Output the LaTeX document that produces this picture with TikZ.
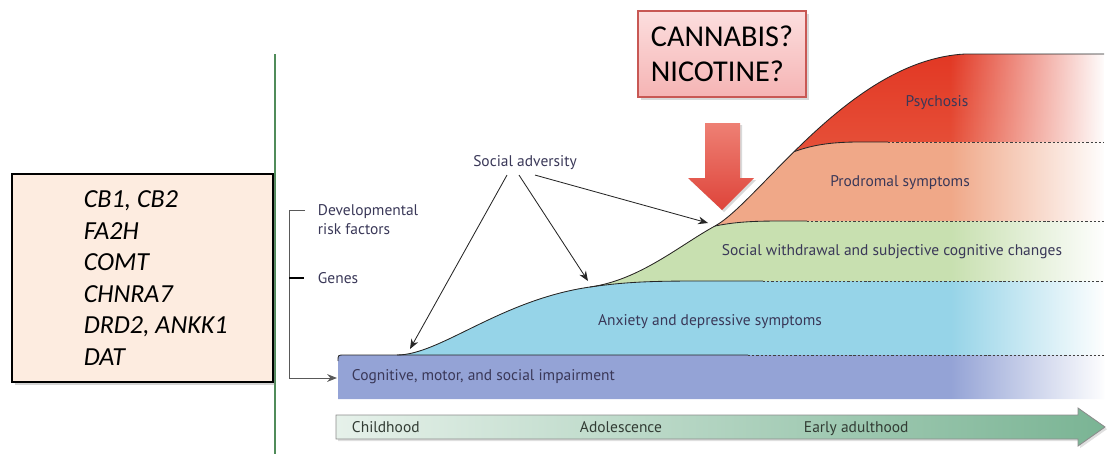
\documentclass[tikz,border=0pt]{standalone}
\usepackage{fontspec}
\setmainfont{Carlito}
\newfontfamily\lancetfont{PT Sans}
\usetikzlibrary{positioning,shadows,fadings,calc,arrows.meta}

\definecolor{bandblue}{RGB}{148,163,214}
\definecolor{anxcyan}{RGB}{150,212,232}
\definecolor{withgreen}{RGB}{200,224,176}
\definecolor{prodsalmon}{RGB}{240,168,136}
\definecolor{psyred}{RGB}{226,56,36}
\definecolor{psylight}{RGB}{238,130,100}
\definecolor{labelink}{RGB}{58,56,88}
\definecolor{timeink}{RGB}{50,60,52}
\definecolor{genefill}{RGB}{253,236,224}
\definecolor{drugtop}{RGB}{252,222,222}
\definecolor{drugbottom}{RGB}{245,180,180}
\definecolor{drugedge}{RGB}{200,88,84}
\definecolor{arrowtop}{RGB}{238,128,116}
\definecolor{arrowbottom}{RGB}{222,68,58}
\definecolor{timeleft}{RGB}{230,241,234}
\definecolor{timeright}{RGB}{122,180,148}
\definecolor{sidegreen}{RGB}{80,140,90}

\tikzfading[name=fade to right, left color=transparent!100, right color=transparent!0]

\begin{document}
\begin{tikzpicture}[x=0.025cm,y=-0.025cm,
        lancet/.style={font=\lancetfont\fontsize{11}{13.5}\selectfont, text=labelink},
        timelabel/.style={font=\lancetfont\fontsize{11}{13.5}\selectfont, text=timeink, anchor=base west},
        edgeline/.style={draw=black!85, line width=0.6pt},
        dotline/.style={draw=black!75, line width=0.7pt, dash pattern=on 1.6pt off 1.4pt},
        pointer/.style={-{Stealth[length=7pt,width=5.5pt]}, black!85, line width=0.6pt},
        genebox/.style={draw=black, line width=1.4pt, fill=genefill, minimum width=6.5cm, minimum height=5.2cm,
            drop shadow={shadow xshift=2pt, shadow yshift=-2pt, opacity=0.35}},
        genetext/.style={font=\itshape\fontsize{18.5}{22.4}\selectfont, align=left, inner sep=0pt},
        drugbox/.style={draw=drugedge, line width=1.2pt, top color=drugtop, bottom color=drugbottom,
            minimum width=4.2cm, minimum height=2.15cm, align=left, font=\fontsize{21.5}{25}\selectfont,
            drop shadow={shadow xshift=2pt, shadow yshift=-2pt, opacity=0.3}}]

    \useasboundingbox (0,0) rectangle (1111,454);

    \draw[sidegreen, line width=0.8pt] (275,54) -- (275,454);

    \node[genebox] (genebox) at (142.5,278) {};
    \node[genetext, right=1.8cm of genebox.west] (genelist) {CB1, CB2\\FA2H\\COMT\\CHNRA7\\DRD2, ANKK1\\DAT};

    \node[drugbox] (drugbox) at (722,54) {CANNABIS?\\NICOTINE?};
    \shade[top color=arrowtop, bottom color=arrowbottom, drop shadow={shadow xshift=1.5pt, shadow yshift=-1.5pt, opacity=0.3}]
        (705,123) -- (740,123) -- (740,178) -- (754,178) -- (722,210) -- (688,178) -- (705,178) -- cycle;

    \shade[top color=psyred, bottom color=psylight]
        (397,355) .. controls (440,355) and (500,300) .. (590,287)
        .. controls (640,280) and (680,245) .. (715,226)
        .. controls (760,201) and (850,60) .. (965,54) -- (1104,54) -- (1104,356) -- cycle;
    \path (715,226) .. controls (760,201) and (850,60) .. (965,54) coordinate[pos=0.42] (br);

    \begin{scope}
        \clip (397,355) .. controls (440,355) and (500,300) .. (590,287)
            .. controls (640,280) and (680,245) .. (715,226)
            .. controls (760,201) and (850,60) .. (965,54) -- (1104,54) -- (1104,356) -- cycle;
        \fill[prodsalmon] (br) .. controls (815,144) and (835,142) .. (860,142) -- (1104,142)
            -- (1104,360) -- (300,360) -- ($(br)+(-500,0)$) -- cycle;
        \fill[withgreen] (715,226) .. controls (740,221) and (760,221) .. (790,221) -- (1104,221)
            -- (1104,360) -- (300,360) -- (300,226) -- cycle;
        \fill[anxcyan] (590,287) .. controls (625,282) and (650,281) .. (700,281) -- (1104,281)
            -- (1104,360) -- (300,360) -- (300,287) -- cycle;
    \end{scope}

    \fill[bandblue] (338,399) -- (338,361) .. controls (338,355) .. (344,355) -- (1104,355) -- (1104,399) -- cycle;
    \coordinate (bandleft) at (337,378);

    \fill[white, path fading=fade to right] (950,50) rectangle (1106,402);

    \draw[edgeline] (338,361) .. controls (338,355) .. (344,355) -- (748,355);
    \draw[edgeline] (397,355) .. controls (440,355) and (500,300) .. (590,287)
        .. controls (640,280) and (680,245) .. (715,226)
        .. controls (760,201) and (850,60) .. (965,54) -- (1104,54);
    \draw[edgeline] (590,287) .. controls (625,282) and (650,281) .. (700,281) -- (763,281);
    \draw[edgeline] (715,226) .. controls (740,221) and (760,221) .. (790,221) -- (807,221);
    \draw[edgeline] (br) .. controls (815,144) and (835,142) .. (860,142) -- (888,142);
    \draw[dotline] (748,355) -- (1104,355);
    \draw[dotline] (763,281) -- (1104,281);
    \draw[dotline] (807,221) -- (1104,221);
    \draw[dotline] (888,142) -- (1104,142);

    \node[lancet] (psychosis) at (937,103) {Psychosis};
    \node[lancet] (prodromal) at (900,183) {Prodromal symptoms};
    \node[lancet] (withdrawal) at (892,252) {Social withdrawal and subjective cognitive changes};
    \node[lancet] (anxiety) at (710,322) {Anxiety and depressive symptoms};
    \node[lancet, anchor=west] (impairment) at (347,377) {Cognitive, motor, and social impairment};

    \node[lancet] (adversity) at (525,163) {Social adversity};
    \coordinate (hitbase) at (410,349);
    \coordinate (hitanx) at (588,281);
    \coordinate (hitgreen) at (708,223);
    \path[pointer]
        ($(adversity.south)+(-18,0)$) edge (hitbase)
        ($(adversity.south)+(-6,0)$) edge (hitanx)
        ($(adversity.south)+(10,0)$) edge (hitgreen);

    \node[lancet, anchor=west, align=left] (devrisk) at (313,220) {Developmental\\risk factors};
    \node[lancet, anchor=west] (genes) at (313,278) {Genes};
    \draw[black!65, line width=0.7pt, -{Stealth[length=7pt,width=5.5pt]}] (305,210) -- (289,210) -- (289,378) -- (bandleft);
    \draw[black, line width=1.2pt] (289,278) -- (304,278);

    \shadedraw[left color=timeleft, right color=timeright, draw=black!45, line width=0.6pt,
        drop shadow={shadow xshift=1.5pt, shadow yshift=-1.5pt, opacity=0.25}]
        (336,415) -- (1078,415) -- (1078,408) -- (1105,427) -- (1078,446) -- (1078,439) -- (336,439) -- cycle;
    \node[timelabel] (childhood) at (347,432) {Childhood};
    \node[timelabel] (adolescence) at (575,432) {Adolescence};
    \node[timelabel] (adulthood) at (799,432) {Early adulthood};

\end{tikzpicture}
\end{document}
